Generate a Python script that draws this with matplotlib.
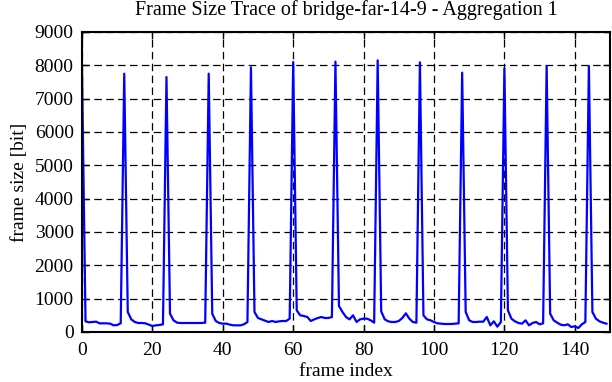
import matplotlib
matplotlib.use("Agg")
import matplotlib.pyplot as plt
import numpy as np

peak_frames = [0, 12, 24, 36, 48, 60, 72, 84, 96, 108, 120, 132, 144]
peak_values = [7860, 7750, 7650, 7750, 7940, 8100, 8110, 8150, 8090, 7780, 7910, 7980, 7980]

# frame sizes between peaks (frames following each peak)
seg_values = [
    [320, 290, 300, 310, 260, 260, 260, 250, 200, 210, 260],          # 1-11
    [600, 380, 300, 270, 270, 260, 220, 180, 200, 210, 230],          # 13-23
    [550, 350, 280, 270, 270, 270, 270, 270, 270, 270, 280],          # 25-35
    [550, 330, 270, 250, 250, 220, 200, 200, 200, 230, 300],          # 37-47
    [600, 420, 380, 340, 300, 330, 300, 320, 330, 330, 400],          # 49-59
    [650, 500, 480, 450, 330, 380, 420, 450, 420, 420, 450],          # 61-71
    [780, 600, 450, 380, 500, 300, 380, 400, 400, 350, 280],          # 73-83
    [620, 380, 320, 300, 300, 330, 420, 560, 400, 300, 280],          # 85-95
    [500, 380, 350, 300, 260, 250, 240, 240, 240, 250, 260],          # 97-107
    [600, 350, 300, 300, 310, 310, 450, 200, 320, 160, 300],          # 109-119
    [650, 400, 320, 270, 250, 350, 200, 270, 300, 230, 260],          # 121-131
    [550, 350, 280, 220, 200, 230, 150, 170, 120, 230, 300],          # 133-143
    [600, 400, 320, 280, 250],                                        # 145-149
]

frame_size = []
for pv, seg in zip(peak_values, seg_values):
    frame_size.append(pv)
    frame_size.extend(seg)
frame_index = np.arange(len(frame_size))

x_ticks = list(range(0, 141, 20))
y_ticks = list(range(0, 9001, 1000))

plt.rcParams['font.family'] = ['Liberation Serif', 'DejaVu Serif']

fig = plt.figure(figsize=(6.12, 3.82), dpi=100)
ax = fig.add_axes([82/612, 1-332/382, (610-82)/612, (332-32)/382])

ax.plot(frame_index, frame_size, color='#0000ff', lw=1.6)

ax.set_xlim(0, 150)
ax.set_ylim(0, 9000)
ax.set_xticks(x_ticks)
ax.set_yticks(y_ticks)
ax.grid(True, color='black', linestyle=(0, (6, 3.5)), linewidth=0.9)
ax.tick_params(direction='in', length=5, width=1, labelsize=14,
               top=True, right=True)
ax.tick_params(axis='x', pad=7)
ax.tick_params(axis='y', pad=6)
for s in ax.spines.values():
    s.set_linewidth(1.5)

ax.set_xlabel('frame index', fontsize=14, labelpad=3)
ax.set_ylabel('frame size [bit]', fontsize=14, labelpad=5)
ax.set_title('Frame Size Trace of bridge-far-14-9 - Aggregation 1', fontsize=14.5, pad=12)

fig.savefig('out.png', dpi=100)
